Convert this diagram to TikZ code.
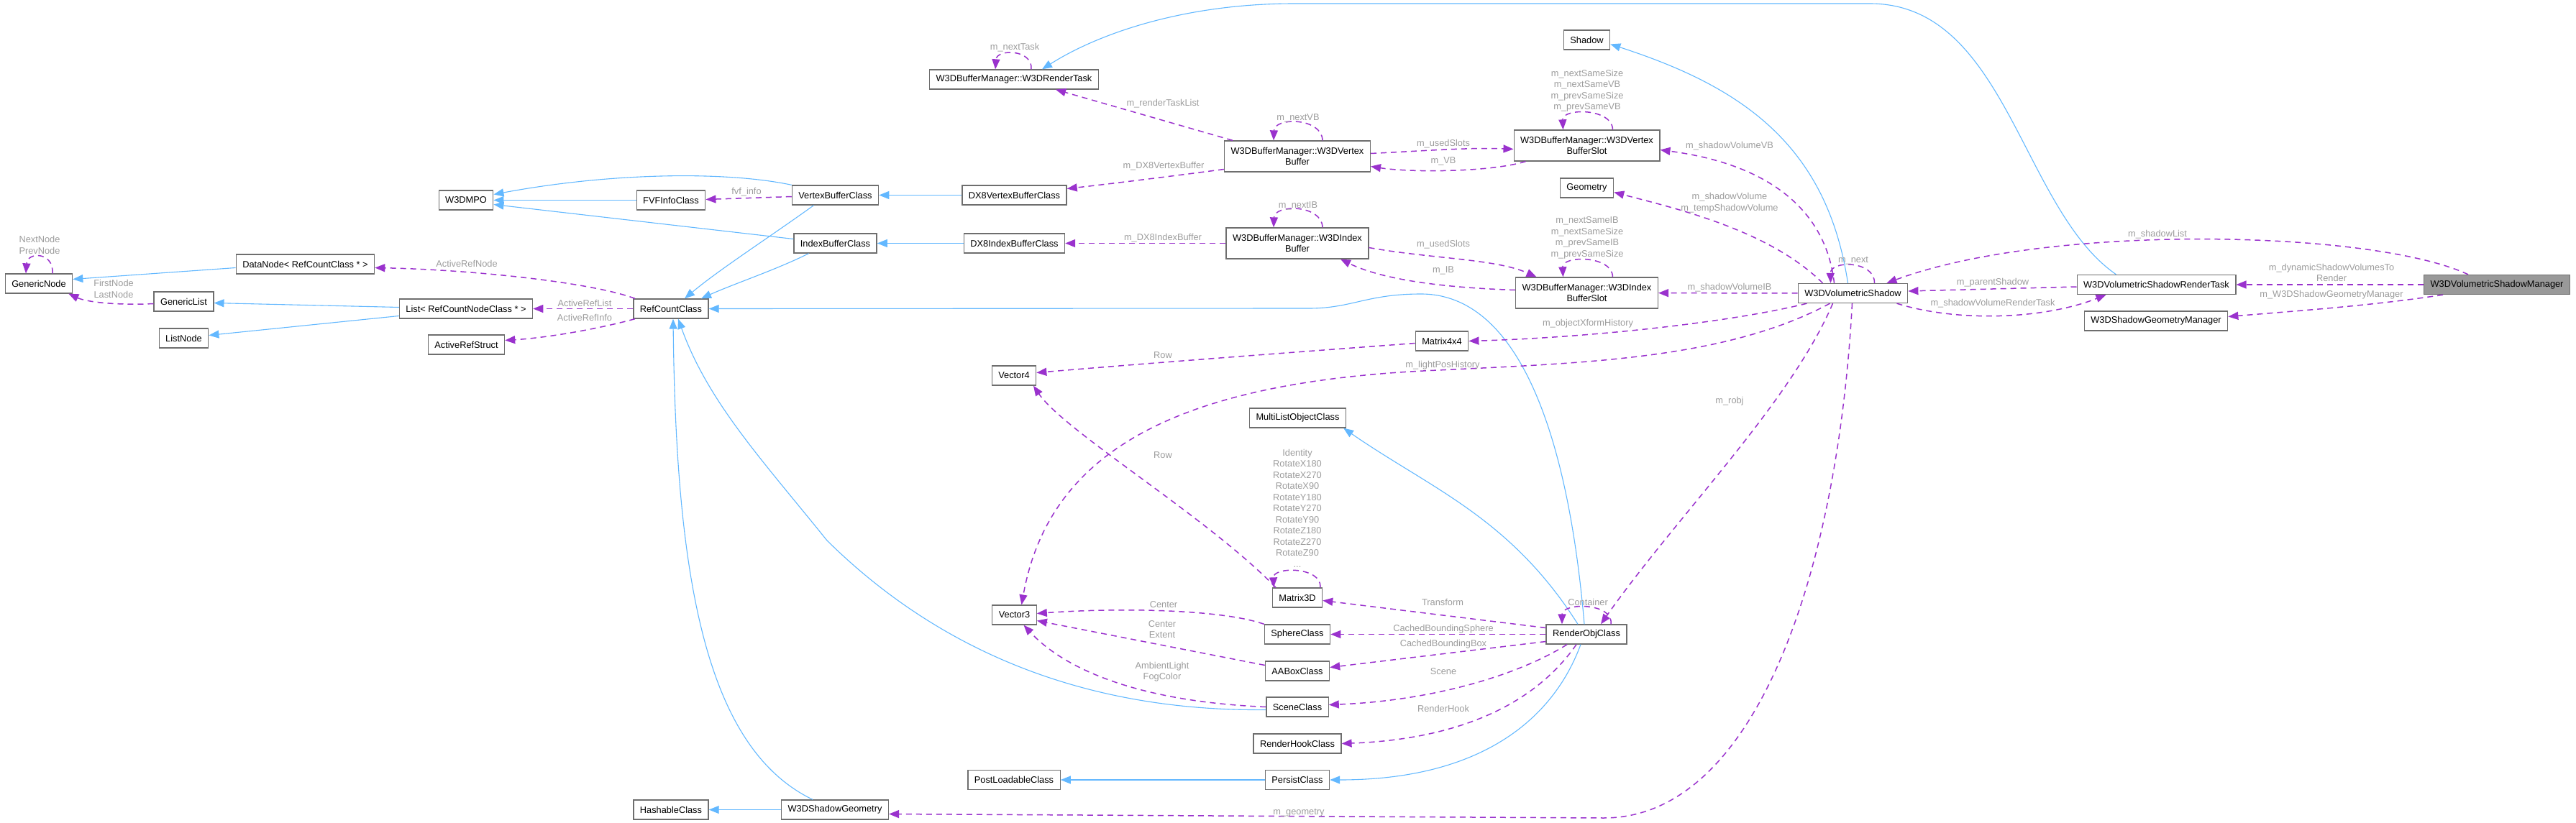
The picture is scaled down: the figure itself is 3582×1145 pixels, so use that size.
\documentclass[tikz,border=0pt]{standalone}
\usepackage{fontspec}
\setmainfont{Liberation Sans}
\usetikzlibrary{arrows.meta}
\definecolor{inhblue}{HTML}{63B8FF}
\definecolor{usepurple}{HTML}{9A32CD}
\definecolor{lblgray}{HTML}{9C9C9C}
\definecolor{boxgray}{HTML}{6E6E6E}
\definecolor{mgrgray}{HTML}{999999}

\begin{document}
\begin{tikzpicture}[
  x=1pt, y=-1pt,
  font=\fontsize{12.8}{15.5}\selectfont,
  cls/.style={draw=boxgray, line width=1.3pt, fill=white, minimum height=27pt, inner xsep=9pt, inner ysep=2pt, align=center},
  cls2/.style={cls, minimum height=43pt},
  inh/.style={-{Triangle[length=14pt,width=11pt]}, draw=inhblue, line width=1.1pt},
  use/.style={-{Triangle[length=14pt,width=11pt]}, draw=usepurple, line width=1.5pt, dash pattern=on 8pt off 6pt},
  lbl/.style={text=lblgray, align=center, inner sep=0pt}
]
\useasboundingbox (0,0) rectangle (3582,1145);

\node[cls] (genericnode) at (54,394.5) {GenericNode};
\node[cls] (datanode) at (424.5,367.5) {DataNode< RefCountClass * >};
\node[cls] (genericlist) at (255.5,419.5) {GenericList};
\node[cls] (listnode) at (255.5,470.5) {ListNode};
\node[cls] (reflist) at (648,429.5) {List< RefCountNodeClass * >};
\node[cls] (activeref) at (648.5,479.5) {ActiveRefStruct};
\node[cls] (w3dmpo) at (648,278.5) {W3DMPO};
\node[cls] (fvfinfo) at (933,278.5) {FVFInfoClass};
\node[cls] (refcount) at (933,429.5) {RefCountClass};
\node[cls] (vbclass) at (1161.5,271.5) {VertexBufferClass};
\node[cls] (ibclass) at (1161.5,338.5) {IndexBufferClass};
\node[cls] (dx8vb) at (1410.5,271.5) {DX8VertexBufferClass};
\node[cls] (dx8ib) at (1410.5,338.5) {DX8IndexBufferClass};
\node[cls] (rendertask) at (1410,110.5) {W3DBufferManager::W3DRenderTask};
\node[cls2] (vbuf) at (1804,217.5) {W3DBufferManager::W3DVertex\\Buffer};
\node[cls2] (ibuf) at (1804,338.5) {W3DBufferManager::W3DIndex\\Buffer};
\node[cls2] (vslot) at (2206.5,202.5) {W3DBufferManager::W3DVertex\\BufferSlot};
\node[cls2] (islot) at (2206.5,407.5) {W3DBufferManager::W3DIndex\\BufferSlot};
\node[cls] (shadow) at (2206.5,55.5) {Shadow};
\node[cls] (geometry) at (2206.5,261.5) {Geometry};
\node[cls] (volshadow) at (2576.5,408) {W3DVolumetricShadow};
\node[cls] (shadowtask) at (2998.5,396) {W3DVolumetricShadowRenderTask};
\node[cls, fill=mgrgray] (shadowmgr) at (3472,396) {W3DVolumetricShadowManager};
\node[cls] (geommgr) at (2998,446.5) {W3DShadowGeometryManager};
\node[cls] (matrix4) at (2005,474.5) {Matrix4x4};
\node[cls] (vector4) at (1410,522.5) {Vector4};
\node[cls] (multilist) at (1804.5,581.5) {MultiListObjectClass};
\node[cls] (matrix3d) at (1804,831.5) {Matrix3D};
\node[cls] (vector3) at (1410.5,855.5) {Vector3};
\node[cls] (sphere) at (1804,882.5) {SphereClass};
\node[cls] (aabox) at (1804,933.5) {AABoxClass};
\node[cls] (scene) at (1804,983.5) {SceneClass};
\node[cls] (renderhook) at (1804,1034.5) {RenderHookClass};
\node[cls] (postload) at (1410,1085) {PostLoadableClass};
\node[cls] (persist) at (1804,1085) {PersistClass};
\node[cls] (renderobj) at (2206,882.5) {RenderObjClass};
\node[cls] (hashable) at (933,1126.5) {HashableClass};
\node[cls] (shadowgeom) at (1161,1126.5) {W3DShadowGeometry};

\draw[inh] ([xshift=-56pt]shadowtask.north) .. controls (2810,290) and (2790,5) .. (2600,5) -- (1800,5) .. controls (1650,5) and (1530,45) .. ([xshift=39pt]rendertask.north);
\draw[inh] ([xshift=-7pt]volshadow.north) .. controls (2540,200) and (2420,120) .. ([yshift=-6pt]shadow.east);
\draw[inh] (vbclass.north west) .. controls (1010,238) and (850,240) .. ([yshift=8pt]w3dmpo.east);
\draw[inh] (fvfinfo) -- (w3dmpo);
\draw[inh] ([yshift=6pt]ibclass.west) -- ([yshift=-6pt]w3dmpo.east);
\draw[inh] ([xshift=-30pt]vbclass.south) .. controls (1070,330) and (1000,375) .. ([xshift=19pt]refcount.north);
\draw[inh] ([xshift=-37pt]ibclass.south) .. controls (1080,375) and (1020,395) .. ([xshift=42pt]refcount.north);
\draw[inh] (dx8vb) -- (vbclass);
\draw[inh] (dx8ib) -- (ibclass);
\draw[inh] ([yshift=-5pt]datanode.west) -- ([yshift=6pt]genericnode.east);
\draw[inh] ([yshift=2pt]reflist.west) -- ([yshift=-2pt]genericlist.east);
\draw[inh] ([yshift=-10pt]reflist.west) -- ([yshift=4pt]listnode.east);
\draw[inh] ([xshift=-3pt]renderobj.north) .. controls (2180,600) and (2110,409) .. (1976,409) .. controls (1900,409) and (1880,429) .. (1820,429) -- (refcount.east);
\draw[inh] ([xshift=-12pt]renderobj.north) .. controls (2100,720) and (1990,680) .. ([xshift=-4pt]multilist.south east);
\draw[inh] ([xshift=-8pt]renderobj.south) .. controls (2160,1000) and (2060,1085) .. (persist.east);
\draw[inh] (persist) -- (postload);
\draw[inh] ([yshift=-4pt]scene.west) .. controls (1500,990) and (1300,900) .. (1150,752) .. controls (1060,640) and (985,560) .. ([xshift=10pt]refcount.south);
\draw[inh] ([xshift=-31pt]shadowgeom.north) .. controls (980,1040) and (940,800) .. ([xshift=3pt]refcount.south);
\draw[inh] (shadowgeom) -- (hashable);

\draw[use] ([xshift=19pt]genericnode.north) .. controls (75,350) and (38,350) .. ([xshift=-18pt]genericnode.north);
\draw[use] ([yshift=-3pt]genericlist.west) .. controls (160,425) and (120,420) .. ([xshift=-6pt]genericnode.south east);
\draw[use] ([xshift=-50pt]refcount.north) .. controls (820,392) and (650,375) .. ([yshift=-5pt]datanode.east);
\draw[use] (refcount) -- (reflist);
\draw[use] ([xshift=-50pt]refcount.south) .. controls (830,458) and (760,470) .. ([yshift=6pt]activeref.east);
\draw[use] ([yshift=-2pt]vbclass.west) -- ([yshift=1pt]fvfinfo.east);
\draw[use] ([yshift=-18pt]vbuf.west) .. controls (1630,245) and (1550,255) .. ([yshift=9pt]dx8vb.east);
\draw[use] (ibuf) -- (dx8ib);
\draw[use] ([xshift=-90pt]vbuf.north) -- ([xshift=58pt]rendertask.south);
\draw[use] ([xshift=24pt]rendertask.north) .. controls (1436,68) and (1386,68) .. ([xshift=-26pt]rendertask.north);
\draw[use] ([xshift=35pt]vbuf.north) .. controls (1838,163) and (1772,163) .. ([xshift=-33pt]vbuf.north);
\draw[use] ([yshift=4pt]vbuf.east) .. controls (1980,210) and (2040,205) .. ([yshift=-5pt]vslot.west);
\draw[use] ([xshift=-85pt]vslot.south) .. controls (2070,240) and (1960,240) .. ([yshift=-14pt]vbuf.east);
\draw[use] ([xshift=36pt]vslot.north) .. controls (2242,150) and (2172,150) .. ([xshift=-33pt]vslot.north);
\draw[use] ([xshift=35pt]ibuf.north) .. controls (1838,284) and (1772,284) .. ([xshift=-33pt]ibuf.north);
\draw[use] ([yshift=-6pt]ibuf.east) .. controls (1990,360) and (2080,360) .. ([xshift=-70pt]islot.north);
\draw[use] ([yshift=4pt]islot.west) .. controls (2000,400) and (1920,388) .. ([xshift=60pt]ibuf.south);
\draw[use] ([xshift=36pt]islot.north) .. controls (2242,355) and (2172,355) .. ([xshift=-33pt]islot.north);
\draw[use] ([xshift=-26pt]volshadow.north) .. controls (2540,300) and (2470,230) .. ([yshift=-6pt]vslot.east);
\draw[use] ([xshift=-42pt]volshadow.north) .. controls (2460,320) and (2330,290) .. ([yshift=-6pt]geometry.east);
\draw[use] (volshadow) -- (islot);
\draw[use] ([xshift=30pt]volshadow.north) .. controls (2607,362) and (2545,362) .. ([xshift=-31pt]volshadow.north);
\draw[use] ([xshift=-64pt]volshadow.south) .. controls (2400,450) and (2200,470) .. (matrix4.east);
\draw[use] ([xshift=-32pt]volshadow.south) .. controls (2400,500) and (2200,505) .. (2000,515) .. controls (1650,530) and (1460,620) .. ([xshift=10pt]vector3.north);
\draw[use] ([yshift=-3pt]matrix4.west) .. controls (1800,490) and (1600,505) .. ([yshift=4pt]vector4.east);
\draw[use] ([xshift=-30pt]matrix3d.north) .. controls (1680,720) and (1480,600) .. ([xshift=27pt]vector4.south);
\draw[use] ([xshift=32pt]matrix3d.north) .. controls (1838,788) and (1770,788) .. ([xshift=-33pt]matrix3d.north);
\draw[use] ([xshift=-28pt]volshadow.south) .. controls (2490,560) and (2330,720) .. ([xshift=20pt]renderobj.north);
\draw[use] ([xshift=34pt]renderobj.north) .. controls (2244,838) and (2172,838) .. ([xshift=-34pt]renderobj.north);
\draw[use] ([yshift=9pt]renderobj.west) -- ([yshift=-4pt]matrix3d.east);
\draw[use] (renderobj) -- (sphere);
\draw[use] ([yshift=-10pt]renderobj.west) -- ([yshift=5pt]aabox.east);
\draw[use] ([xshift=-27pt]renderobj.south) .. controls (2110,940) and (1990,975) .. ([yshift=3pt]scene.east);
\draw[use] ([xshift=-14pt]renderobj.south) .. controls (2120,1000) and (1990,1030) .. (renderhook.east);
\draw[use] (sphere.north west) .. controls (1700,848) and (1560,845) .. ([yshift=2pt]vector3.east);
\draw[use] ([yshift=8pt]aabox.west) -- ([yshift=-8pt]vector3.east);
\draw[use] (scene.west) .. controls (1560,975) and (1470,920) .. ([xshift=13pt]vector3.south);
\draw[use] ([xshift=-1pt]volshadow.south) .. controls (2555,800) and (2440,1138) .. (2230,1138) -- ([yshift=-6pt]shadowgeom.east);
\draw[use] ([xshift=-40pt]shadowmgr.north) .. controls (3300,320) and (2850,310) .. ([xshift=47pt]volshadow.north);
\draw[use] (shadowmgr) -- (shadowtask);
\draw[use] ([xshift=-75pt]shadowmgr.south) .. controls (3300,425) and (3200,432) .. ([yshift=6pt]geommgr.east);
\draw[use] ([yshift=-3pt]shadowtask.west) -- ([yshift=3pt]volshadow.east);
\draw[use] ([xshift=61pt]volshadow.south) .. controls (2720,448) and (2840,445) .. ([xshift=-70pt]shadowtask.south);

\node[lbl] (l-nextnode) at (55,341) {NextNode\\PrevNode};
\node[lbl] (l-firstnode) at (158,402) {FirstNode\\LastNode};
\node[lbl] (l-activerefnode) at (649,367) {ActiveRefNode};
\node[lbl] (l-activereflist) at (813,422) {ActiveRefList};
\node[lbl] (l-activerefinfo) at (813,442) {ActiveRefInfo};
\node[lbl] (l-fvfinfo) at (1038,267) {fvf\_info};
\node[lbl] (l-nexttask) at (1411,66) {m\_nextTask};
\node[lbl] (l-tasklist) at (1617,144) {m\_renderTaskList};
\node[lbl] (l-dx8vb) at (1618,231) {m\_DX8VertexBuffer};
\node[lbl] (l-dx8ib) at (1617,331) {m\_DX8IndexBuffer};
\node[lbl] (l-nextvb) at (1805,164) {m\_nextVB};
\node[lbl] (l-usedvb) at (2007,200) {m\_usedSlots};
\node[lbl] (l-vb) at (2007,224) {m\_VB};
\node[lbl] (l-vslotloop) at (2207,126) {m\_nextSameSize\\m\_nextSameVB\\m\_prevSameSize\\m\_prevSameVB};
\node[lbl] (l-volvb) at (2405,203) {m\_shadowVolumeVB};
\node[lbl] (l-volgeom) at (2405,282) {m\_shadowVolume\\m\_tempShadowVolume};
\node[lbl] (l-nextib) at (1805,286) {m\_nextIB};
\node[lbl] (l-usedib) at (2007,340) {m\_usedSlots};
\node[lbl] (l-ib) at (2007,376) {m\_IB};
\node[lbl] (l-islotloop) at (2207,331) {m\_nextSameIB\\m\_nextSameSize\\m\_prevSameIB\\m\_prevSameSize};
\node[lbl] (l-volib) at (2405,400) {m\_shadowVolumeIB};
\node[lbl] (l-next) at (2577,363) {m\_next};
\node[lbl] (l-shadowlist) at (3000,326) {m\_shadowList};
\node[lbl] (l-dynamic) at (3242,379.5) {m\_dynamicShadowVolumesTo\\Render};
\node[lbl] (l-geommgr) at (3242,410) {m\_W3DShadowGeometryManager};
\node[lbl] (l-parent) at (2771,393) {m\_parentShadow};
\node[lbl] (l-voltask) at (2771,422) {m\_shadowVolumeRenderTask};
\node[lbl] (l-xform) at (2208,450) {m\_objectXformHistory};
\node[lbl] (l-row1) at (1617,494) {Row};
\node[lbl] (l-lightpos) at (2006,508) {m\_lightPosHistory};
\node[lbl] (l-robj) at (2405,558) {m\_robj};
\node[lbl] (l-row2) at (1617,633) {Row};
\node[lbl] (l-matrixloop) at (1804,707) {Identity\\RotateX180\\RotateX270\\RotateX90\\RotateY180\\RotateY270\\RotateY90\\RotateZ180\\RotateZ270\\RotateZ90\\...};
\node[lbl] (l-transform) at (2006,838) {Transform};
\node[lbl] (l-container) at (2208,838) {Container};
\node[lbl] (l-center) at (1618,841) {Center};
\node[lbl] (l-extent) at (1616,875.5) {Center\\Extent};
\node[lbl] (l-sphere) at (2007,875) {CachedBoundingSphere};
\node[lbl] (l-box) at (2007,896) {CachedBoundingBox};
\node[lbl] (l-fog) at (1616,934.5) {AmbientLight\\FogColor};
\node[lbl] (l-scene) at (2007,934) {Scene};
\node[lbl] (l-hook) at (2007,986) {RenderHook};
\node[lbl] (l-geometry) at (1806,1131) {m\_geometry};
\end{tikzpicture}
\end{document}
